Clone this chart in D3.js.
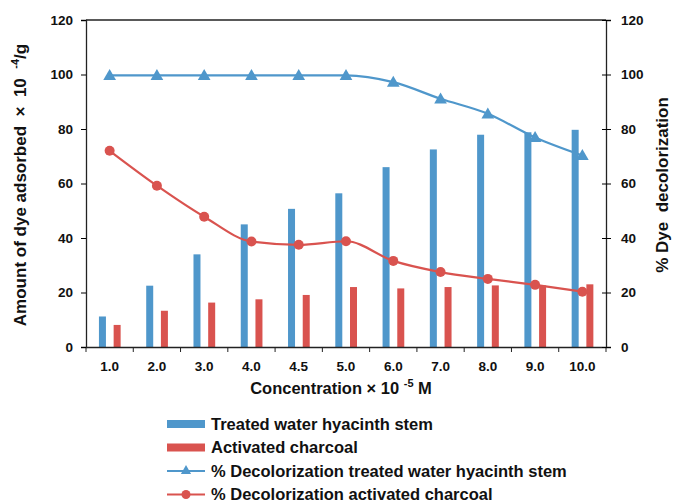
<!DOCTYPE html>
<html>
<head>
<meta charset="utf-8">
<script src="https://cdn.jsdelivr.net/npm/d3@7"></script>
<style>
  body { margin: 0; background: #fff; }
  text { font-family: "Liberation Sans", Arial, sans-serif; font-weight: bold; fill: #111; }
</style>
</head>
<body>
<script>
// Data
var concentrations = ["1.0", "2.0", "3.0", "4.0", "4.5", "5.0", "6.0", "7.0", "8.0", "9.0", "10.0"];
var adsorbedStem = [11.2, 22.5, 34, 45, 50.7, 56.4, 66, 72.5, 77.9, 78.8, 79.7];
var adsorbedCharcoal = [8.1, 13.3, 16.3, 17.5, 19.1, 22, 21.5, 22, 22.6, 22.6, 23];
var decolorStem = [99.7, 99.7, 99.7, 99.7, 99.7, 99.7, 97.2, 91.1, 85.6, 76.9, 70.3];
var decolorCharcoal = [72, 59.2, 47.8, 38.7, 37.5, 38.8, 31.6, 27.5, 25, 22.8, 20.3];
var yTicks = [0, 20, 40, 60, 80, 100, 120];
var legendLabels = ["Treated water hyacinth stem", "Activated charcoal",
  "% Decolorization treated water hyacinth stem", "% Decolorization activated charcoal"];

var blue = "#4f97cb", red = "#d9534f";

var margin = {top: 20, left: 86, right: 67},
    width = 673 - margin.left - margin.right,
    height = 327;

var svg = d3.select("body").append("svg")
    .attr("width", 673)
    .attr("height", 503);

var g = svg.append("g")
    .attr("transform", "translate(" + margin.left + "," + margin.top + ")");

// Scales
var x = d3.scaleBand().domain(concentrations).range([0, width]);
var y = d3.scaleLinear().domain([0, 120]).range([height, 0]);
var y2 = d3.scaleLinear().domain([0, 120]).range([height, 0]);

var barW = 7;

// Bars
g.selectAll(".bar-stem")
    .data(adsorbedStem)
    .enter().append("rect")
      .attr("x", function(d, i) { return x(concentrations[i]) + x.bandwidth() / 2 - 10.7; })
      .attr("y", function(d) { return y(d); })
      .attr("width", barW)
      .attr("height", function(d) { return height - y(d); })
      .style("fill", blue);

g.selectAll(".bar-charcoal")
    .data(adsorbedCharcoal)
    .enter().append("rect")
      .attr("x", function(d, i) { return x(concentrations[i]) + x.bandwidth() / 2 + 4; })
      .attr("y", function(d) { return y(d); })
      .attr("width", barW)
      .attr("height", function(d) { return height - y(d); })
      .style("fill", red);

// Frame top line
g.append("line")
    .attr("x1", 0).attr("x2", width)
    .attr("y1", 0).attr("y2", 0)
    .style("stroke", "#222").style("stroke-width", 1.3);

// Axes
var xAxis = g.append("g")
    .attr("transform", "translate(0," + height + ")")
    .call(d3.axisBottom(x).tickSize(0).tickPadding(14));
xAxis.select(".domain").style("stroke", "#222").style("stroke-width", 1.3);
xAxis.selectAll("text").style("font-size", "13.5px");
// ticks between categories
xAxis.selectAll(".sep")
    .data(d3.range(concentrations.length + 1))
    .enter().append("line")
      .attr("x1", function(i) { return i * x.step(); })
      .attr("x2", function(i) { return i * x.step(); })
      .attr("y1", 0).attr("y2", 5)
      .style("stroke", "#222");

var yAxis = g.append("g")
    .call(d3.axisLeft(y).tickValues(yTicks).tickSize(5).tickPadding(8));
yAxis.select(".domain").style("stroke", "#222").style("stroke-width", 1.3);
yAxis.selectAll("text").style("font-size", "13.5px");

var yAxis2 = g.append("g")
    .attr("transform", "translate(" + width + ",0)")
    .call(d3.axisRight(y2).tickValues(yTicks).tickSize(5).tickPadding(10));
yAxis2.select(".domain").style("stroke", "#222").style("stroke-width", 1.3);
yAxis2.selectAll(".tick line").attr("x1", -4);
yAxis2.selectAll("text").style("font-size", "13.5px");

// Lines
var cx = function(d, i) { return x(concentrations[i]) + x.bandwidth() / 2; };

var lineStem = d3.line()
    .x(cx)
    .y(function(d) { return y2(d); })
    .curve(d3.curveMonotoneX);

var lineCharcoal = d3.line()
    .x(cx)
    .y(function(d) { return y2(d); })
    .curve(d3.curveMonotoneX);

g.append("path")
    .datum(decolorCharcoal)
    .attr("d", lineCharcoal)
    .style("fill", "none").style("stroke", red).style("stroke-width", 2.2);

g.selectAll(".dot")
    .data(decolorCharcoal)
    .enter().append("circle")
      .attr("cx", cx)
      .attr("cy", function(d) { return y2(d); })
      .attr("r", 5)
      .style("fill", red);

g.append("path")
    .datum(decolorStem)
    .attr("d", lineStem)
    .style("fill", "none").style("stroke", blue).style("stroke-width", 2.2);

var tri = d3.symbol().type(d3.symbolTriangle).size(70);
g.selectAll(".tri")
    .data(decolorStem)
    .enter().append("path")
      .attr("d", tri)
      .attr("transform", function(d, i) { return "translate(" + cx(d, i) + "," + (y2(d) + 1) + ")"; })
      .style("fill", blue);

// Axis titles
var t1 = svg.append("text")
    .attr("transform", "translate(26,185) rotate(-90)")
    .style("text-anchor", "middle")
    .style("font-size", "17px")
    .attr("xml:space", "preserve");
t1.append("tspan").text("Amount of dye adsorbed  \u00d7  10  ");
t1.append("tspan").attr("dy", -7).style("font-size", "11px").text("-4");
t1.append("tspan").attr("dy", 7).text("/g");

svg.append("text")
    .attr("transform", "translate(668,185) rotate(-90)")
    .style("text-anchor", "middle")
    .style("font-size", "17px")
    .attr("xml:space", "preserve")
    .text("% Dye  decolorization");

var t3 = svg.append("text")
    .attr("x", 341).attr("y", 394)
    .style("text-anchor", "middle")
    .style("font-size", "16.5px")
    .attr("xml:space", "preserve");
t3.append("tspan").text("Concentration \u00d7 10 ");
t3.append("tspan").attr("dy", -7).style("font-size", "11px").text("-5");
t3.append("tspan").attr("dy", 7).text(" M");

// Legend
var legend = svg.selectAll(".legend")
    .data(legendLabels)
    .enter().append("g")
      .attr("class", "legend")
      .attr("transform", function(d, i) { return "translate(167," + (424 + i * 23.5) + ")"; });

legend.each(function(d, i) {
  var lg = d3.select(this);
  var c = (i === 0 || i === 2) ? blue : red;
  if (i < 2) {
    lg.append("rect").attr("x", 0).attr("y", -4).attr("width", 38).attr("height", 8).style("fill", c);
  } else {
    lg.append("line").attr("x1", 0).attr("x2", 38).attr("y1", 0).attr("y2", 0)
      .style("stroke", c).style("stroke-width", 2.2);
    if (i === 2) {
      lg.append("path").attr("d", d3.symbol().type(d3.symbolTriangle).size(45))
        .attr("transform", "translate(19,0)").style("fill", c);
    } else {
      lg.append("circle").attr("cx", 19).attr("cy", 0).attr("r", 4.5).style("fill", c);
    }
  }
  lg.append("text")
    .attr("x", 44).attr("y", 0).attr("dy", "0.35em")
    .style("font-size", "16.5px")
    .text(d);
});
</script>
</body>
</html>
